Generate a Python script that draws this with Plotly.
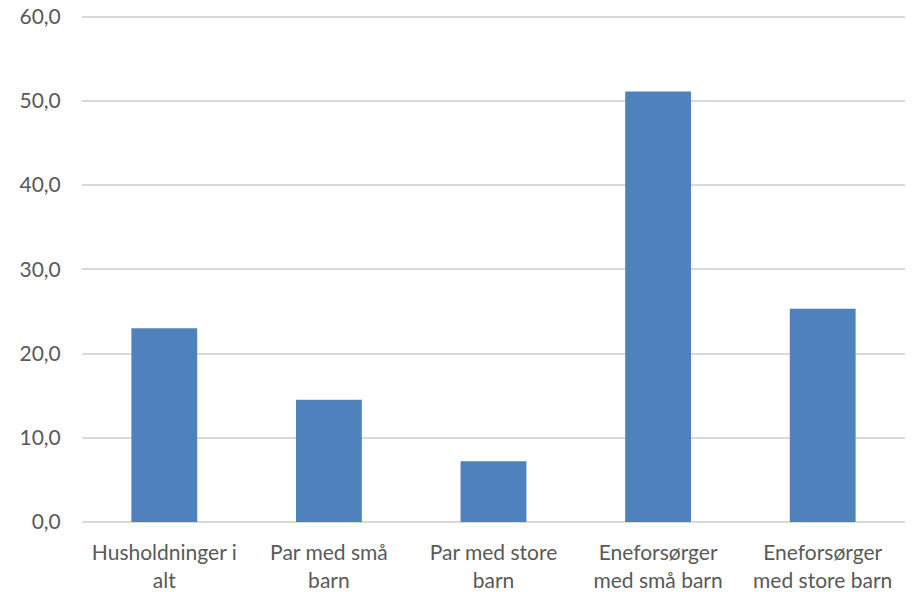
import plotly.graph_objects as go

categories = [
    "Husholdninger i<br>alt",
    "Par med små<br>barn",
    "Par med store<br>barn",
    "Eneforsørger<br>med små barn",
    "Eneforsørger<br>med store barn",
]
values = [23.0, 14.5, 7.2, 51.1, 25.3]
y_ticks = [0, 10, 20, 30, 40, 50, 60]

fig = go.Figure(
    go.Bar(
        x=categories,
        y=values,
        marker=dict(color="#4F81BD", line=dict(width=0)),
        hoverinfo="skip",
    )
)

fig.update_layout(
    width=912,
    height=592,
    margin=dict(l=82, r=7, t=13.5, b=70.3),
    paper_bgcolor="white",
    plot_bgcolor="white",
    bargap=0.6,
    separators=", ",
    showlegend=False,
    font=dict(family="Lato", size=21, color="#595959"),
)
fig.update_xaxes(
    automargin=False,
    showgrid=False,
    showline=False,
    ticks="outside",
    ticklen=12,
    tickcolor="rgba(0,0,0,0)",
    tickfont=dict(size=21, color="#595959"),
)
fig.update_yaxes(
    automargin=False,
    range=[0, 60.3],
    tickvals=y_ticks,
    tickformat=".1f",
    showgrid=True,
    gridcolor="#D9D9D9",
    gridwidth=1.5,
    zeroline=True,
    zerolinecolor="#D9D9D9",
    zerolinewidth=1.5,
    showline=False,
    ticks="outside",
    ticklen=16,
    tickcolor="rgba(0,0,0,0)",
    tickfont=dict(size=21, color="#595959"),
)

fig.write_html(
    "out.html",
    config={"displayModeBar": False},
    post_script="document.body.style.margin='0';document.body.style.overflow='hidden';",
)
